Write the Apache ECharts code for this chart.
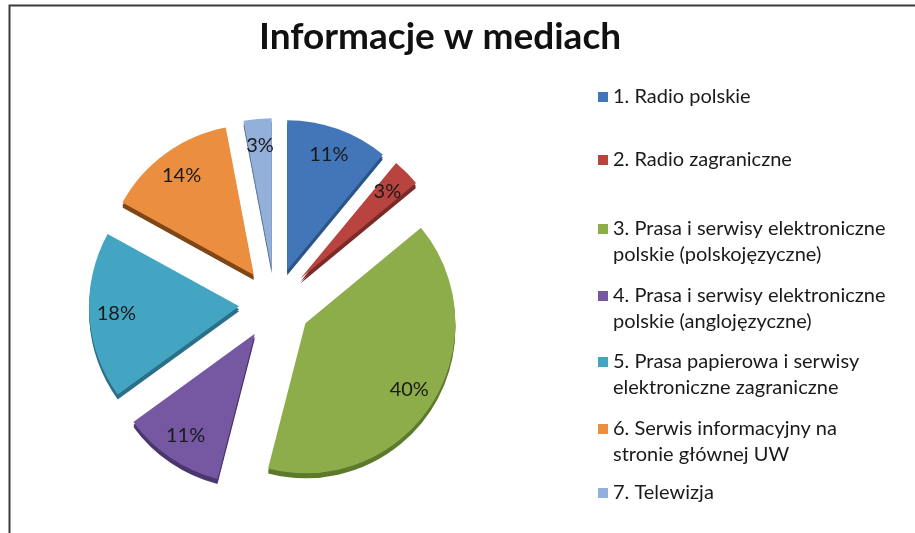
<!DOCTYPE html>
<html>
<head>
<meta charset="utf-8">
<script src="https://cdn.jsdelivr.net/npm/echarts@6/dist/echarts.min.js"></script>
<style>
  html, body { margin: 0; padding: 0; background: #fff; }
  #chart { width: 915px; height: 533px; }
</style>
</head>
<body>
<div id="chart"></div>
<script>
// Media sources named by respondents (share, %)
const categories = [
  '1. Radio polskie',
  '2. Radio zagraniczne',
  '3. Prasa i serwisy elektroniczne\npolskie (polskojęzyczne)',
  '4. Prasa i serwisy elektroniczne\npolskie (anglojęzyczne)',
  '5. Prasa papierowa i serwisy\nelektroniczne zagraniczne',
  '6. Serwis informacyjny na\nstronie głównej UW',
  '7. Telewizja'
];
const shares = [11, 3, 40, 11, 18, 14, 3];
const topColors = ['#4276b9', '#b9433f', '#8dad4b', '#7558a1', '#43a5c1', '#eb8e40', '#93b0da'];
const sideColors = ['#2b5487', '#7a2a28', '#5b7a2b', '#4b366f', '#2a7088', '#7f4616', '#5a7499'];
// first-line centre of each legend entry
const legendRows = [97, 160, 229, 296, 362, 429, 493];

const FONT = 'Lato, "Open Sans", sans-serif';
const CX = 275, CY = 304, R = 150, EXPLODE = 36;

function pieData(colors, transparent) {
  return categories.map((name, i) => ({
    name,
    value: shares[i],
    selected: true,
    itemStyle: { color: transparent ? 'rgba(0,0,0,0)' : colors[i] }
  }));
}

const basePie = {
  type: 'pie',
  selectedMode: 'multiple',
  selectedOffset: EXPLODE,
  startAngle: 90,
  clockwise: true,
  animation: false,
  emphasis: { disabled: true, scale: false },
  select: { itemStyle: { borderWidth: 0 } },
  labelLine: { show: false }
};

const series = [];
// slice tops
series.push(Object.assign({}, basePie, {
  name: 'Informacje w mediach',
  center: [CX, CY],
  radius: R,
  z: 3,
  label: { show: false },
  data: pieData(topColors, false)
}));
// depth layers give the slices a thin 3D rim
[5, 3].forEach(dy => {
  series.push(Object.assign({}, basePie, {
    name: 'rim' + dy,
    center: [CX, CY + dy],
    radius: R,
    z: 1,
    silent: true,
    label: { show: false },
    data: pieData(sideColors, false)
  }));
});
// label ring, placed towards the outer edge of each slice
series.push(Object.assign({}, basePie, {
  name: 'labels',
  center: [CX, CY],
  radius: [90, R],
  z: 4,
  silent: true,
  label: {
    show: true,
    position: 'inside',
    formatter: '{c}%',
    fontFamily: FONT,
    fontSize: 20,
    color: '#1a1a1a'
  },
  data: pieData(topColors, true)
}));

const legends = categories.map((name, i) => {
  const twoLines = name.indexOf('\n') >= 0;
  return {
    data: [{ name, itemStyle: { color: topColors[i] } }],
    left: 598,
    top: legendRows[i] - (twoLines ? 39 : 13),
    orient: 'vertical',
    padding: 0,
    icon: 'rect',
    itemWidth: 10,
    itemHeight: 10,
    selectedMode: false,
    // a blank lead line keeps the marker level with the first text line
    formatter: n => (twoLines ? ' \n' : '') + n,
    textStyle: {
      fontFamily: FONT,
      fontSize: 20,
      lineHeight: 26,
      color: '#1a1a1a'
    }
  };
});

const chart = echarts.init(document.getElementById('chart'), null, { renderer: 'canvas' });
chart.setOption({
  backgroundColor: '#ffffff',
  color: topColors,
  title: {
    text: 'Informacje w mediach',
    left: 254,
    top: 14,
    textStyle: { fontFamily: FONT, fontSize: 37, fontWeight: 'bold', color: '#111' }
  },
  legend: legends,
  graphic: [{
    type: 'rect',
    silent: true,
    shape: { x: 9.5, y: 5.5, width: 1000, height: 1000 },
    style: { fill: 'none', stroke: '#3c3c3c', lineWidth: 2 }
  }],
  series
});
</script>
</body>
</html>
